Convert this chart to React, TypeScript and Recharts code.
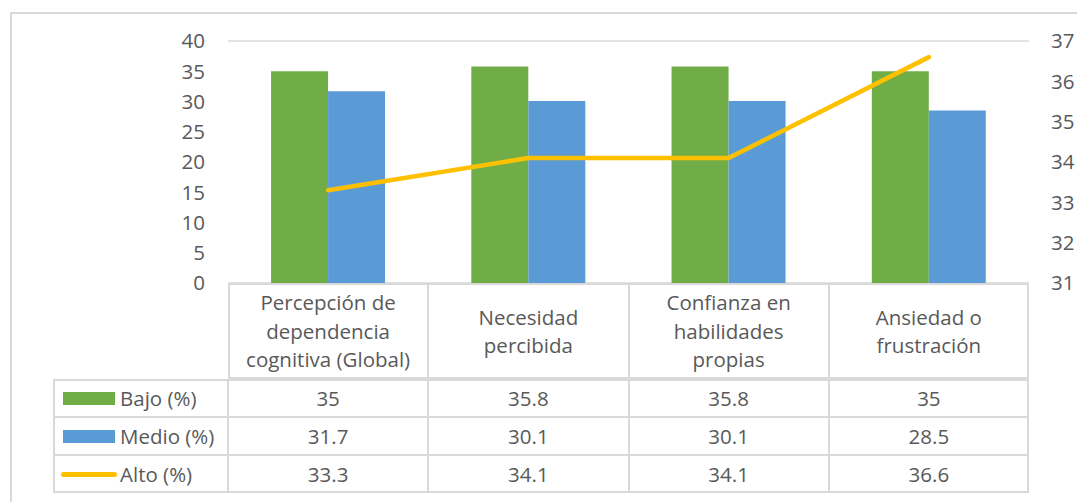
import { ComposedChart, Bar, Line, XAxis, YAxis, CartesianGrid } from "recharts";

const categories = [
  ["Percepción de", "dependencia", "cognitiva (Global)"],
  ["Necesidad", "percibida"],
  ["Confianza en", "habilidades", "propias"],
  ["Ansiedad o", "frustración"],
];
const bajo = [35, 35.8, 35.8, 35];
const medio = [31.7, 30.1, 30.1, 28.5];
const alto = [33.3, 34.1, 34.1, 36.6];
const leftTicks = [0, 5, 10, 15, 20, 25, 30, 35, 40];
const rightTicks = [31, 32, 33, 34, 35, 36, 37];

const data = categories.map((c, i) => ({
  name: c.join(" "),
  bajo: bajo[i],
  medio: medio[i],
  alto: alto[i],
}));

const FONT = "'Open Sans', sans-serif";
const TEXT = "#595959";
const BORDER = "#d9d9d9";
const FS = 20.5;

const W = 1077;
const H = 502;
const plotLeft = 228;
const plotRight = 1029;
const plotTop = 41;
const plotBottom = 283;
const colW = (plotRight - plotLeft) / 4;
const headerBottom = 379;
const rowH = 38;
const legendLeft = 53;

const rows = [
  { label: "Bajo (%)", values: bajo, color: "#70ad47", kind: "bar" },
  { label: "Medio (%)", values: medio, color: "#5b9bd5", kind: "bar" },
  { label: "Alto (%)", values: alto, color: "#ffc000", kind: "line" },
];

export default function App() {
  return (
    <div style={{ position: "fixed", left: 0, top: 0, width: W, height: H, background: "white", overflow: "hidden", fontFamily: FONT }}>
      <div style={{ position: "absolute", left: 10, top: 12, width: W + 20, height: H + 20, border: `2px solid ${BORDER}`, boxSizing: "border-box" }} />
      <ComposedChart
        width={W}
        height={H}
        data={data}
        margin={{ top: plotTop, left: plotLeft - 60, right: 0, bottom: 0 }}
        barCategoryGap="21.5%"
        barGap={0}
        style={{ position: "absolute", left: 0, top: 0 }}
      >
        <CartesianGrid stroke={BORDER} strokeWidth={1.5} vertical={false} />
        <XAxis dataKey="name" height={H - plotBottom} tick={false} axisLine={false} tickLine={false} />
        <YAxis
          yAxisId="left"
          width={60}
          domain={[0, 40]}
          ticks={leftTicks}
          axisLine={false}
          tickLine={false}
          tickMargin={17}
          tick={{ fill: TEXT, fontSize: FS, fontFamily: FONT }}
        />
        <YAxis
          yAxisId="right"
          orientation="right"
          width={W - plotRight}
          domain={[31, 37]}
          ticks={rightTicks}
          axisLine={false}
          tickLine={false}
          tickMargin={16}
          tick={{ fill: TEXT, fontSize: FS, fontFamily: FONT, textAnchor: "start" }}
        />
        <Bar yAxisId="left" dataKey="bajo" fill="#70ad47" isAnimationActive={false} />
        <Bar yAxisId="left" dataKey="medio" fill="#5b9bd5" isAnimationActive={false} />
        <Line
          yAxisId="right"
          dataKey="alto"
          stroke="#ffc000"
          strokeWidth={4.5}
          strokeLinecap="round"
          dot={false}
          type="linear"
          isAnimationActive={false}
        />
      </ComposedChart>

      {/* data table */}
      <div style={{ position: "absolute", left: plotLeft, top: plotBottom, width: plotRight - plotLeft, height: headerBottom - plotBottom, border: `2px solid ${BORDER}`, boxSizing: "border-box" }} />
      <div style={{ position: "absolute", left: legendLeft, top: headerBottom, width: plotRight - legendLeft, height: rowH * 3, border: `2px solid ${BORDER}`, boxSizing: "border-box" }} />
      {[1, 2].map((r) => (
        <div key={r} style={{ position: "absolute", left: legendLeft, top: headerBottom + r * rowH - 1, width: plotRight - legendLeft, height: 2, background: BORDER }} />
      ))}
      {[0, 1, 2, 3].map((c) => (
        <div key={c} style={{ position: "absolute", left: plotLeft + c * colW - 1, top: c === 0 ? headerBottom : plotBottom, width: 2, height: c === 0 ? rowH * 3 : headerBottom - plotBottom + rowH * 3, background: BORDER }} />
      ))}
      {categories.map((lines, c) => (
        <div key={c} style={{ position: "absolute", left: plotLeft + c * colW, top: plotBottom, width: colW, height: headerBottom - plotBottom, display: "flex", flexDirection: "column", justifyContent: "center", alignItems: "center", color: TEXT, fontSize: FS, lineHeight: "28.5px" }}>
          {lines.map((l) => (
            <div key={l}>{l}</div>
          ))}
        </div>
      ))}
      {rows.map((row, r) => (
        <div key={row.label}>
          <div style={{ position: "absolute", left: legendLeft + 8, top: headerBottom + r * rowH, height: rowH, display: "flex", alignItems: "center", color: TEXT, fontSize: FS }}>
            {row.kind === "bar" ? (
              <div style={{ width: 52, height: 13, background: row.color, marginLeft: 2, marginRight: 5 }} />
            ) : (
              <div style={{ width: 56, height: 5, borderRadius: 3, background: row.color, marginRight: 3 }} />
            )}
            <span>{row.label}</span>
          </div>
          {row.values.map((v, c) => (
            <div key={c} style={{ position: "absolute", left: plotLeft + c * colW, top: headerBottom + r * rowH, width: colW, height: rowH, display: "flex", alignItems: "center", justifyContent: "center", color: TEXT, fontSize: FS }}>
              {v}
            </div>
          ))}
        </div>
      ))}
    </div>
  );
}
